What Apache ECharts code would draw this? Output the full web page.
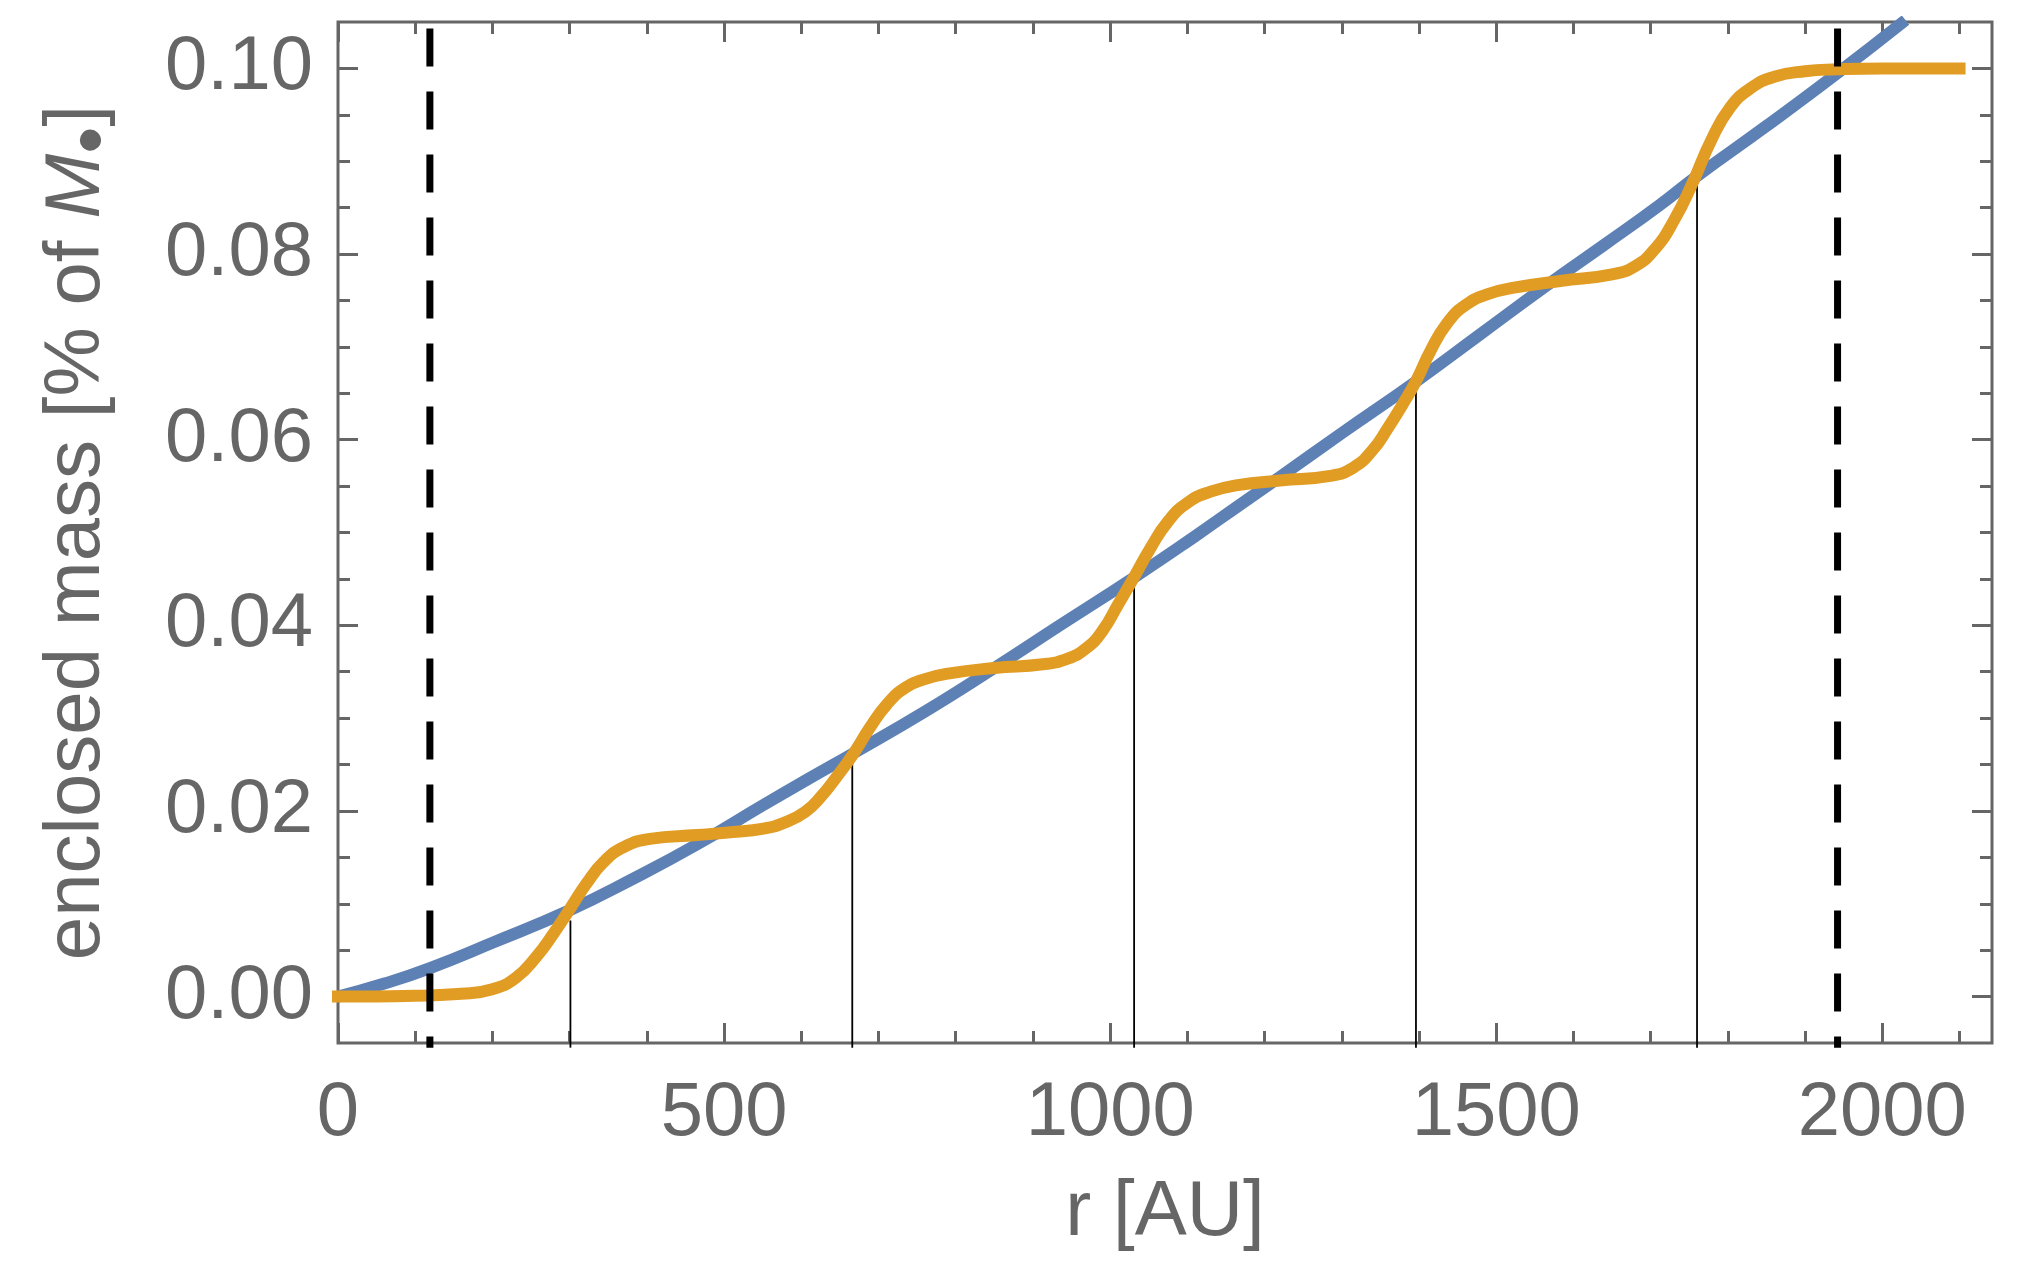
<!DOCTYPE html>
<html>
<head>
<meta charset="utf-8">
<title>enclosed mass</title>
<script src="https://cdn.jsdelivr.net/npm/echarts@6/dist/echarts.min.js"></script>
<style>
    html, body { margin: 0; padding: 0; background: #ffffff; }
    #chart { width: 2018px; height: 1283px; }
</style>
</head>
<body>
<div id="chart"></div>
<script>
// ticks
var xMajorTicks = [0, 500, 1000, 1500, 2000];
var xTickLabels = ['0', '500', '1000', '1500', '2000'];
var xMinorTicks = [100, 200, 300, 400, 600, 700, 800, 900, 1100, 1200, 1300, 1400,
    1600, 1700, 1800, 1900, 2100];
var yMajorTicks = [0, 0.02, 0.04, 0.06, 0.08, 0.10];
var yTickLabels = ['0.00', '0.02', '0.04', '0.06', '0.08', '0.10'];
var yMinorTicks = [0.005, 0.01, 0.015, 0.025, 0.03, 0.035, 0.045, 0.05, 0.055,
    0.065, 0.07, 0.075, 0.085, 0.09, 0.095];

// blue curve (smooth model)
var smoothR = [0, 60, 120, 200, 300, 380, 465, 550, 610, 665, 760, 850, 935, 1030,
    1110, 1170, 1220, 1300, 1395, 1480, 1565, 1640, 1712, 1760, 1850, 1942, 2030];
var smoothM = [0, 0.0014, 0.0031, 0.0058, 0.0093, 0.0126, 0.0164, 0.0206, 0.0235, 0.0261,
    0.0307, 0.0354, 0.0400, 0.0451, 0.0496, 0.0531, 0.0560, 0.0607, 0.0662, 0.0714,
    0.0766, 0.0810, 0.0853, 0.0884, 0.0938, 0.0995, 0.1052];

// orange curve (stepped)
var stepR = [0, 100, 160, 200, 230, 257, 280, 300, 322, 344, 370, 404, 465, 508,
    551, 580, 605, 625, 646, 667, 689, 711, 735, 760, 790, 850,
    913, 945, 970, 990, 1010, 1031, 1052, 1075, 1100, 1130, 1165, 1220,
    1285, 1315, 1340, 1360, 1378, 1396, 1415, 1436, 1460, 1490, 1525, 1583,
    1650, 1680, 1705, 1730, 1755, 1778, 1803, 1830, 1860, 1900, 1941, 2000, 2100];
var stepM = [0, 0.0001, 0.0003, 0.0008, 0.0020, 0.0043, 0.0069, 0.0094, 0.0122, 0.0145, 0.0161, 0.0170, 0.0174, 0.0177,
    0.0181, 0.0188, 0.0199, 0.0215, 0.0237, 0.0261, 0.0290, 0.0315, 0.0333, 0.0342, 0.0348, 0.0354,
    0.0358, 0.0364, 0.0376, 0.0394, 0.0422, 0.0452, 0.0483, 0.0512, 0.0532, 0.0544, 0.0551, 0.0556,
    0.0561, 0.0570, 0.0589, 0.0613, 0.0637, 0.0663, 0.0696, 0.0725, 0.0745, 0.0757, 0.0764, 0.0771,
    0.0778, 0.0787, 0.0805, 0.0836, 0.0878, 0.0922, 0.0958, 0.0979, 0.0991, 0.0997, 0.0999, 0.1000, 0.1000];

// thin marker lines
var markR = [301, 666, 1031, 1396, 1760];
var markTop = [0.0082, 0.0258, 0.0447, 0.0655, 0.0875];

// dashed lines
var dashR = [119, 1942];

var gray = '#666666';
var font = "'Liberation Sans', Arial, Helvetica, sans-serif";
var xRange = [0, 2142];
var yRange = [-0.005, 0.105];

function pairs(xs, ys) {
    var out = [];
    for (var i = 0; i < xs.length; i++) out.push([xs[i], ys[i]]);
    return out;
}

function labelFor(values, labels) {
    return function (v) {
        for (var i = 0; i < values.length; i++) {
            if (Math.abs(values[i] - v) < 1e-9) return labels[i];
        }
        return '';
    };
}

// one axis: only ticks (and maybe labels)
function tickAxis(dir, grid, pos, ticks, len, withLabels) {
    var range = dir === 'x' ? xRange : yRange;
    var ax = {
        type: 'value',
        gridIndex: grid,
        position: pos,
        min: range[0],
        max: range[1],
        axisLine: { show: false, onZero: false },
        splitLine: { show: false },
        axisTick: {
            show: true,
            inside: true,
            length: len,
            customValues: ticks,
            lineStyle: { color: gray, width: 3 }
        },
        axisLabel: { show: false }
    };
    if (withLabels) {
        ax.axisLabel = {
            show: true,
            customValues: ticks,
            color: gray,
            fontSize: 76,
            fontFamily: font,
            margin: dir === 'x' ? 33 : 25,
            formatter: dir === 'x' ? labelFor(xMajorTicks, xTickLabels) : labelFor(yMajorTicks, yTickLabels)
        };
    }
    return ax;
}

var xAxes = [
    tickAxis('x', 0, 'bottom', xMajorTicks, 20, true),
    tickAxis('x', 0, 'top', xMajorTicks, 20, false),
    tickAxis('x', 1, 'bottom', xMinorTicks, 12, false),
    tickAxis('x', 1, 'top', xMinorTicks, 12, false)
];
xAxes[0].name = 'r [AU]';
xAxes[0].nameLocation = 'middle';
xAxes[0].nameGap = 131;
xAxes[0].nameTextStyle = { color: gray, fontSize: 78, fontFamily: font };

var yAxes = [
    tickAxis('y', 0, 'left', yMajorTicks, 20, true),
    tickAxis('y', 0, 'right', yMajorTicks, 20, false),
    tickAxis('y', 1, 'left', yMinorTicks, 12, false),
    tickAxis('y', 1, 'right', yMinorTicks, 12, false)
];
yAxes[0].name = 'enclosed mass [% of {i|M}{b|•}]';
yAxes[0].nameLocation = 'middle';
yAxes[0].nameGap = 205;
yAxes[0].nameTextStyle = {
    color: gray, fontSize: 78, fontFamily: font,
    rich: {
        i: { color: gray, fontSize: 78, fontFamily: font, fontStyle: 'italic' },
        b: { color: gray, fontSize: 78, fontFamily: font, padding: [34, 0, 0, 0] }
    }
};

var series = [];

// thin vertical lines below the curves
markR.forEach(function (r, i) {
    series.push({
        type: 'line',
        xAxisIndex: 0, yAxisIndex: 0,
        data: [[r, -0.0055], [r, markTop[i]]],
        showSymbol: false,
        clip: false,
        silent: true,
        lineStyle: { color: '#000000', width: 1.8 },
        z: 1
    });
});

series.push({
    name: 'smooth',
    type: 'line',
    xAxisIndex: 0, yAxisIndex: 0,
    data: pairs(smoothR, smoothM),
    showSymbol: false,
    smooth: 0.5,
    lineStyle: { color: '#5E81B5', width: 12, cap: 'butt' },
    z: 2
});

series.push({
    name: 'steps',
    type: 'line',
    xAxisIndex: 0, yAxisIndex: 0,
    data: pairs(stepR, stepM),
    showSymbol: false,
    smooth: 0.5,
    lineStyle: { color: '#E19C24', width: 12, cap: 'square' },
    z: 3
});

// dashed vertical lines on top
dashR.forEach(function (r) {
    series.push({
        type: 'line',
        xAxisIndex: 0, yAxisIndex: 0,
        data: [[r, 0.1043], [r, -0.0055]],
        showSymbol: false,
        clip: false,
        silent: true,
        lineStyle: { color: '#000000', width: 7, type: [38, 25] },
        z: 4
    });
});

var chart = echarts.init(document.getElementById('chart'));
chart.setOption({
    animation: false,
    backgroundColor: '#ffffff',
    grid: [
        { left: 338, right: 26, top: 22, bottom: 240, show: true, borderColor: gray, borderWidth: 3 },
        { left: 338, right: 26, top: 22, bottom: 240 }
    ],
    xAxis: xAxes,
    yAxis: yAxes,
    series: series
});
</script>
</body>
</html>
